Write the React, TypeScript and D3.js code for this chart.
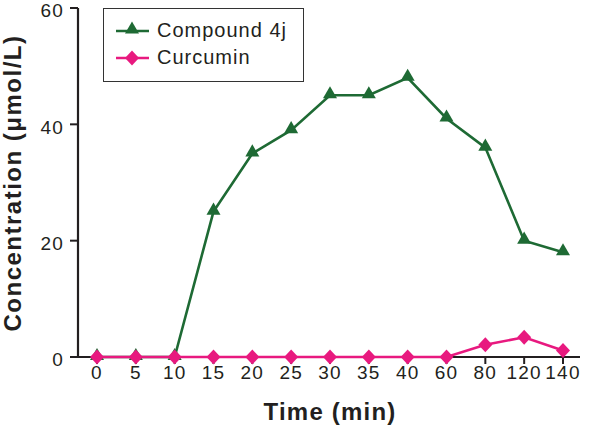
import React from "react";
import * as d3 from "d3";

const categories = ["0", "5", "10", "15", "20", "25", "30", "35", "40", "60", "80", "120", "140"];
const compound4j = [0, 0, 0, 25, 35, 39, 45, 45, 48, 41, 36, 20, 18];
const curcumin = [0, 0, 0, 0, 0, 0, 0, 0, 0, 0, 2.1, 3.4, 1.1];
const yTicks = [0, 20, 40, 60];

const W = 601, H = 427;
const left = 78, right = 580, top = 8, bottom = 357;

export default function App() {
  const x = d3.scalePoint<string>().domain(categories).range([97, 563]);
  const y = d3.scaleLinear().domain([0, 60]).range([bottom, top]);
  const line = d3.line<number>().x((_, i) => x(categories[i])!).y((d) => y(d));
  const green = "#1e6a34";
  const pink = "#e8197f";
  const tri = d3.symbol().type(d3.symbolTriangle).size(85)()!;
  const dia = (w: number, h: number) => `M0,${-h}L${w},0L0,${h}L${-w},0Z`;
  const font = "Arial, 'Liberation Sans', sans-serif";
  const tc = "#231f20";
  return (
    <svg width={W} height={H} style={{ position: "absolute", left: 0, top: 0, fontFamily: font }}>
      <rect width={W} height={H} fill="#fff" />
      {/* axes */}
      <line x1={left} x2={left} y1={top} y2={bottom + 1} stroke={tc} strokeWidth={2.2} />
      <line x1={left - 1} x2={right} y1={bottom} y2={bottom} stroke={tc} strokeWidth={2.2} />
      {yTicks.map((t) => (
        <g key={t}>
          <line x1={left - 8} x2={left} y1={y(t)} y2={y(t)} stroke={tc} strokeWidth={2} />
          <text x={left - 14} y={y(t) + 2.5} dy="0.36em" textAnchor="end" fontSize={19} letterSpacing={1.2} fill={tc}>{t}</text>
        </g>
      ))}
      {categories.map((c) => (
        <g key={c}>
          <line x1={x(c)} x2={x(c)} y1={bottom} y2={bottom + 7} stroke={tc} strokeWidth={2} />
          <text x={x(c)} y={bottom + 22} textAnchor="middle" fontSize={19} letterSpacing={1.2} fill={tc}>{c}</text>
        </g>
      ))}
      <text x={330} y={420} textAnchor="middle" fontSize={24} fontWeight="bold" letterSpacing={1.2} fill={tc}>Time (min)</text>
      <text transform={`translate(21,183) rotate(-90)`} textAnchor="middle" fontSize={24} fontWeight="bold" letterSpacing={1.5} fill={tc}>Concentration (μmol/L)</text>
      {/* series */}
      <path d={line(compound4j)!} fill="none" stroke={green} strokeWidth={2.6} />
      {compound4j.map((v, i) => (
        <path key={i} d={tri} transform={`translate(${x(categories[i])},${y(v) - 1})`} fill={green} />
      ))}
      <path d={line(curcumin)!} fill="none" stroke={pink} strokeWidth={2.6} />
      {curcumin.map((v, i) => (
        <path key={i} d={dia(7, 7.5)} transform={`translate(${x(categories[i])},${y(v)})`} fill={pink} />
      ))}
      {/* legend */}
      <rect x={103.5} y={8.5} width={200} height={73} fill="#fff" stroke="#333" strokeWidth={1} />
      <line x1={116} x2={149} y1={31} y2={31} stroke={green} strokeWidth={2.6} />
      <path d={tri} transform="translate(132,29.5)" fill={green} />
      <text x={157} y={30} dy="0.36em" fontSize={20} letterSpacing={1} fill={tc}>Compound 4j</text>
      <line x1={116} x2={149} y1={58} y2={58} stroke={pink} strokeWidth={2.6} />
      <path d={dia(7, 7.5)} transform="translate(132,58)" fill={pink} />
      <text x={157} y={57} dy="0.36em" fontSize={20} letterSpacing={1} fill={tc}>Curcumin</text>
    </svg>
  );
}
